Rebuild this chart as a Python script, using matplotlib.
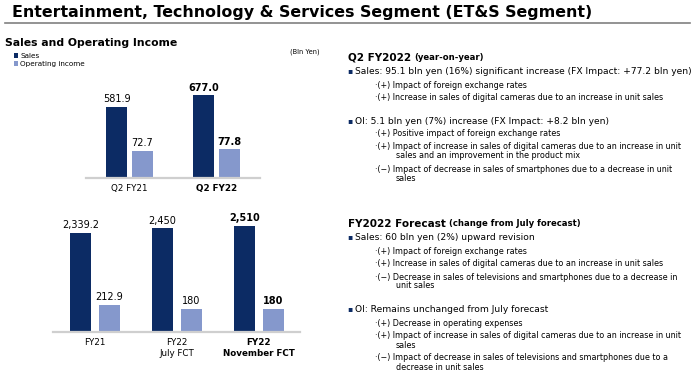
import matplotlib.pyplot as plt
from matplotlib.lines import Line2D

# data (bln yen)
quarters = ["Q2 FY21", "Q2 FY22"]
q_sales = [581.9, 677.0]
q_oi = [72.7, 77.8]

years = ["FY21", "FY22\nJuly FCT", "FY22\nNovember FCT"]
fy_sales = [2339.2, 2450, 2510]
fy_oi = [212.9, 180, 180]

q2_head = ["Q2 FY2022", "(year-on-year)"]
q2_text = [
    ("b", "Sales: 95.1 bln yen (16%) significant increase (FX Impact: +77.2 bln yen)"),
    ("s", "·(+) Impact of foreign exchange rates"),
    ("s", "·(+) Increase in sales of digital cameras due to an increase in unit sales"),
    ("b", "OI: 5.1 bln yen (7%) increase (FX Impact: +8.2 bln yen)"),
    ("s", "·(+) Positive impact of foreign exchange rates"),
    ("s", "·(+) Impact of increase in sales of digital cameras due to an increase in unit"),
    ("c", "sales and an improvement in the product mix"),
    ("s", "·(\u2212) Impact of decrease in sales of smartphones due to a decrease in unit"),
    ("c", "sales"),
]
fc_head = ["FY2022 Forecast", "(change from July forecast)"]
fc_text = [
    ("b", "Sales: 60 bln yen (2%) upward revision"),
    ("s", "·(+) Impact of foreign exchange rates"),
    ("s", "·(+) Increase in sales of digital cameras due to an increase in unit sales"),
    ("s", "·(\u2212) Decrease in sales of televisions and smartphones due to a decrease in"),
    ("c", "unit sales"),
    ("b", "OI: Remains unchanged from July forecast"),
    ("s", "·(+) Decrease in operating expenses"),
    ("s", "·(+) Impact of increase in sales of digital cameras due to an increase in unit"),
    ("c", "sales"),
    ("s", "·(\u2212) Impact of decrease in sales of televisions and smartphones due to a"),
    ("c", "decrease in unit sales"),
]

NAVY = "#0C2B64"
LIGHT = "#8598CC"
W, H = 700, 378

plt.rcParams['font.family'] = ['DejaVu Sans']

def fx(x):
    return x / W

def fy(y):
    return 1 - y / H

fig = plt.figure(figsize=(7, 3.78), dpi=100)

# header
fig.text(fx(12), fy(12), "Entertainment, Technology & Services Segment (ET&S Segment)",
         fontsize=11.4, fontweight='bold', va='center', ha='left')
fig.add_artist(Line2D([fx(5), fx(690)], [fy(23), fy(23)], color='#808080', lw=1.2))
fig.text(fx(5), fy(43), "Sales and Operating Income", fontsize=7.8, fontweight='bold', va='center')
fig.text(fx(290), fy(52), "(Bln Yen)", fontsize=4.8, va='center')


def label(v):
    return "{:,}".format(v)


def panel(left, right, base, top, cats, sales, oi, smax, omax, off, width, xlim, pad):
    ax = fig.add_axes([fx(left), fy(base), fx(right) - fx(left), fy(top) - fy(base)])
    ax2 = ax.twinx()
    xs = list(range(len(cats)))
    b1 = ax.bar([x - off for x in xs], sales, width, color=NAVY)
    b2 = ax2.bar([x + off for x in xs], oi, width, color=LIGHT)
    ax.set_ylim(0, smax)
    ax2.set_ylim(0, omax)
    ax.set_xlim(*xlim)
    n = len(cats)
    for i in xs:
        w = 'bold' if i == n - 1 else 'normal'
        ax.annotate(label(sales[i]), (i - off, sales[i]), xytext=(0, 2), textcoords='offset points',
                    ha='center', va='bottom', fontsize=7, fontweight=w)
        ax2.annotate(label(oi[i]), (i + off, oi[i]), xytext=(0, 2), textcoords='offset points',
                     ha='center', va='bottom', fontsize=7, fontweight=w)
    ax.set_xticks(xs)
    ax.set_xticklabels(cats, fontsize=6.3)
    ax.tick_params(axis='x', length=0, pad=pad)
    for i, t in enumerate(ax.get_xticklabels()):
        t.set_linespacing(1.35)
        if i == n - 1:
            t.set_fontweight('bold')
    for a in (ax, ax2):
        for s in a.spines.values():
            s.set_visible(False)
        a.set_yticks([])
    ax.spines['bottom'].set_visible(True)
    ax.spines['bottom'].set_color('#CFCFCF')
    ax.spines['bottom'].set_linewidth(1.6)
    ax.set_zorder(1)
    ax.patch.set_visible(False)
    return b1, b2


b1, b2 = panel(86, 260, 178, 78, quarters, q_sales, q_oi, 820, 272, 0.149, 0.241, (-0.5, 1.5), 4)
panel(53, 300, 332, 212, years, fy_sales, fy_oi, 2837, 945, 0.177, 0.256, (-0.512, 2.5), 4)

fig.legend([b1, b2], ["Sales", "Operating income"], loc='upper left',
           bbox_to_anchor=(fx(14), fy(53)), frameon=False, fontsize=5.2,
           handlelength=0.6, handleheight=0.6, handletextpad=0.3, labelspacing=0.25,
           borderpad=0, borderaxespad=0)

renderer = fig.canvas.get_renderer()


def block(head, lines, ys):
    t = fig.text(fx(348), fy(ys[0]), head[0], fontsize=7.5, fontweight='bold', va='center')
    bb = t.get_window_extent(renderer)
    fig.text(bb.x1 / fig.dpi / 7 + fx(3), fy(ys[0]), head[1], fontsize=6.1, fontweight='bold', va='center')
    for (kind, s), y in zip(lines, ys[1:]):
        if kind == 'b':
            fig.text(fx(347), fy(y), "\u25aa", fontsize=5.5, color=NAVY, va='center')
            fig.text(fx(355), fy(y), s, fontsize=6.6, va='center')
        elif kind == 's':
            fig.text(fx(375), fy(y), s, fontsize=5.8, va='center')
        else:
            fig.text(fx(396), fy(y), s, fontsize=5.8, va='center')


block(q2_head, q2_text, [57, 71, 86, 98, 121, 134, 147, 156, 169, 179])
block(fc_head, fc_text, [224, 237, 252, 264, 277, 286, 309, 324, 336, 345, 358, 367])

fig.savefig("out.png", dpi=100)
